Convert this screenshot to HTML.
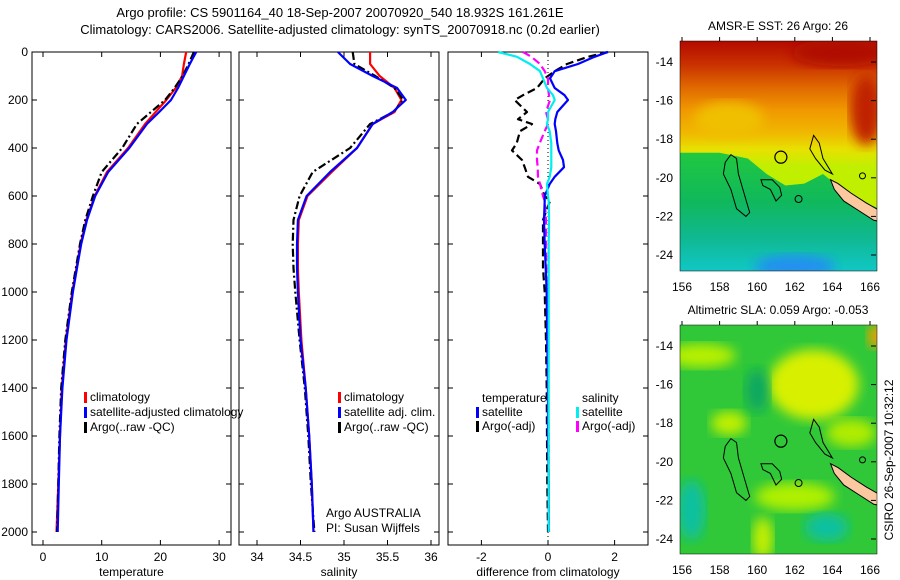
<!DOCTYPE html>
<html><head><meta charset="utf-8"><style>
html,body{margin:0;padding:0;background:#fff;}
svg{display:block;font-family:"Liberation Sans",sans-serif;}
</style></head><body>
<svg id="fig" width="900" height="580" viewBox="0 0 900 580" xmlns="http://www.w3.org/2000/svg">
<defs>
<linearGradient id="sstGrad" x1="0" y1="0" x2="0" y2="1">
<stop offset="0" stop-color="#b40a00"/><stop offset="0.1" stop-color="#c83000"/><stop offset="0.2" stop-color="#e06800"/><stop offset="0.3" stop-color="#f09800"/><stop offset="0.4" stop-color="#f0b800"/><stop offset="0.47" stop-color="#e8e000"/><stop offset="0.55" stop-color="#c0f000"/>
</linearGradient>
<linearGradient id="sstLow" x1="0" y1="0" x2="0" y2="1">
<stop offset="0" stop-color="#20c840"/><stop offset="0.35" stop-color="#10b85c"/><stop offset="0.6" stop-color="#10b890"/><stop offset="0.85" stop-color="#10c8c8"/><stop offset="1" stop-color="#2098f0"/>
</linearGradient>
<filter id="blur"><feGaussianBlur stdDeviation="6"/></filter>
<clipPath id="clipTop"><rect x="680" y="41" width="197" height="230"/></clipPath>
<clipPath id="clipBot"><rect x="680" y="325" width="197" height="229"/></clipPath>
</defs>
<text x="340" y="17" font-size="13" text-anchor="middle">Argo profile: CS 5901164_40 18-Sep-2007 20070920_540 18.932S 161.261E</text>
<text x="340" y="34" font-size="13" text-anchor="middle">Climatology: CARS2006. Satellite-adjusted climatology: synTS_20070918.nc (0.2d earlier)</text>
<g id="plots"></g>
<g id="maps"></g>
<text transform="translate(893,460) rotate(-90)" font-size="12" text-anchor="middle">CSIRO 26-Sep-2007 10:32:12</text>
</svg>
<script>
// ---- data ----
const depths = [0,50,100,150,200,250,300,400,500,600,700,800,900,1000,1200,1400,1600,1800,2000];
const tempClim = [24.4,24.0,23.7,22.6,21.0,19.2,17.4,14.5,10.9,8.8,7.4,6.4,5.7,5.0,3.9,3.2,2.9,2.6,2.3];
const tempSat  = [26.1,25.0,24.0,23.0,21.8,19.8,17.7,14.7,11.1,8.9,7.5,6.5,5.8,5.1,4.0,3.3,2.9,2.7,2.5];
const tempArgo = [25.7,24.8,23.8,22.4,20.8,18.4,16.0,13.5,10.0,8.5,7.2,6.3,5.6,4.9,3.8,3.1,2.8,2.6,2.4];
const saltClim = [35.30,35.30,35.41,35.58,35.66,35.58,35.33,35.15,34.86,34.58,34.48,34.47,34.47,34.48,34.51,34.56,34.60,34.63,34.65];
const saltSat  = [34.93,35.07,35.33,35.61,35.71,35.56,35.33,35.15,34.84,34.57,34.47,34.46,34.46,34.47,34.50,34.56,34.60,34.63,34.65];
const saltArgo = [35.10,35.12,35.36,35.58,35.68,35.57,35.30,35.07,34.64,34.49,34.42,34.41,34.42,34.44,34.49,34.55,34.59,34.62,34.66];
const dDepths = [0,20,50,80,110,150,180,200,250,280,300,330,380,410,450,480,520,550,600,620,700,800,900,1000,1200,1400,1600,1800,2000];
const dTempSat  = [1.8,1.4,0.9,0.2,0.06,0.2,0.5,0.6,0.28,0.22,0.2,0.24,0.28,0.32,0.45,0.48,0.2,0.05,-0.1,-0.1,-0.12,-0.1,-0.07,-0.04,-0.02,0,0,0.02,0.02];
const dTempArgo = [1.8,1.2,0.57,0.2,-0.1,-0.33,-0.75,-1.0,-0.63,-0.9,-0.48,-0.84,-0.94,-1.08,-0.78,-0.7,-0.6,-0.24,-0.1,0.06,-0.15,-0.15,-0.15,-0.1,-0.06,-0.04,-0.03,-0.02,0];
const dSaltSat  = [-1.5,-0.93,-0.54,-0.24,-0.15,-0.03,0.15,0.2,0,0,-0.03,0.05,0.1,0.1,0.1,0.1,0.05,-0.03,0,0.02,0.03,0.02,0.02,0.02,0.02,0.02,0.02,0.02,0.02];
const dSaltArgo = [-0.75,-0.5,-0.24,-0.1,0,0,0.03,0.06,-0.06,0,0,-0.1,-0.25,-0.33,-0.33,-0.31,-0.3,-0.24,-0.15,-0.1,-0.06,-0.06,-0.05,-0.04,-0.02,0,0.02,0.02,0.03];
const depthTicks = [0,200,400,600,800,1000,1200,1400,1600,1800,2000];
const tempTicks = [0,10,20,30];
const saltTicks = ["34","34.5","35","35.5","36"];
const diffTicks = [-2,0,2];
const latTicks = [14,16,18,20,22,24];
const lonTicks = [156,158,160,162,164,166];

const NS = "http://www.w3.org/2000/svg";
function mk(tag, attrs, parent, text){
  const e = document.createElementNS(NS, tag);
  for (const k in attrs) e.setAttribute(k, attrs[k]);
  if (text !== undefined) e.textContent = text;
  parent.appendChild(e);
  return e;
}
const plots = document.getElementById('plots');
const TOP = 52, BOT = 545;
function yD(d){ return 52 + 0.24*d; }

const panels = [
  {name:'temperature', x0:32, x1:231, f:v=>43+5.87*v, ticks:tempTicks, title:'temperature'},
  {name:'salinity', x0:239, x1:439, f:v=>257+87*(v-34), ticks:saltTicks, title:'salinity'},
  {name:'difference', x0:448, x1:648, f:v=>548+33.3*v, ticks:diffTicks, title:'difference from climatology'}
];

panels.forEach(p=>{
  const g = mk('g', {}, plots);
  
  
  const fr = mk('rect', {x:p.x0, y:TOP, width:p.x1-p.x0, height:BOT-TOP, fill:'none', stroke:'#000', 'stroke-width':1}, g);
  
  
  depthTicks.forEach(d=>{
    const y = yD(d);
    mk('line', {x1:p.x0, x2:p.x0+5, y1:y, y2:y, stroke:'#000'}, g);
    mk('line', {x1:p.x1-5, x2:p.x1, y1:y, y2:y, stroke:'#000'}, g);
  });
  p.ticks.forEach(t=>{
    const x = p.f(parseFloat(t));
    mk('line', {x1:x, x2:x, y1:BOT, y2:BOT-5, stroke:'#000'}, g);
    mk('line', {x1:x, x2:x, y1:TOP, y2:TOP+5, stroke:'#000'}, g);
    const tl = mk('text', {x:x, y:561, 'font-size':12, 'text-anchor':'middle'}, g, String(t));
    
    
  });
  const at = mk('text', {x:(p.x0+p.x1)/2, y:576, 'font-size':12, 'text-anchor':'middle'}, g, p.title);
  
  
});
depthTicks.forEach(d=>{
  const t = mk('text', {x:28, y:yD(d)+4, 'font-size':12, 'text-anchor':'end'}, plots, String(d));
  
  
});

function line(vals, ds, f, color, dash, name){
  const pts = vals.map((v,i)=> f(v).toFixed(1)+','+yD(ds[i]).toFixed(1)).join(' ');
  const pl = mk('polyline', {points:pts, fill:'none', stroke:color, 'stroke-width':2.2, 'stroke-dasharray':dash||'none', 'stroke-linejoin':'round'}, plots);
  
  
}
const fT = panels[0].f, fS = panels[1].f, fD = panels[2].f;
const zl = mk('line', {x1:fD(0), x2:fD(0), y1:TOP, y2:BOT, stroke:'#000', 'stroke-width':1, 'stroke-dasharray':'1,3'}, plots);



line(tempClim, depths, fT, '#f00', null, 'temp-climatology-line');
line(tempArgo, depths, fT, '#000', '8,3,2,3', 'temp-argo-line');
line(tempSat, depths, fT, '#00f', null, 'temp-satellite-line');
line(saltClim, depths, fS, '#f00', null, 'salt-climatology-line');
line(saltArgo, depths, fS, '#000', '8,3,2,3', 'salt-argo-line');
line(saltSat, depths, fS, '#00f', null, 'salt-satellite-line');
line(dTempArgo, dDepths, fD, '#000', '8,4', 'diff-temp-argo-line');
line(dSaltArgo, dDepths, fD, '#f0f', '8,4', 'diff-salt-argo-line');
line(dTempSat, dDepths, fD, '#00f', null, 'diff-temp-satellite-line');
line(dSaltSat, dDepths, fD, '#0ee', null, 'diff-salt-satellite-line');

function legend(x, y, color, text, name){
  const g = mk('g', {}, plots);
  
  
  if (color) mk('rect', {x:x-6, y:y-9, width:3, height:11, fill:color}, g);
  mk('text', {x:x, y:y, 'font-size':12}, g, text);
}
legend(90,401,'#f00','climatology','legend-climatology');
legend(90,416,'#00f','satellite-adjusted climatology','legend-satellite-adjusted');
legend(90,431,'#000','Argo(..raw -QC)','legend-argo-raw');
legend(344,401,'#f00','climatology','legend-sal-climatology');
legend(344,416,'#00f','satellite adj. clim.','legend-sal-satellite');
legend(344,431,'#000','Argo(..raw -QC)','legend-sal-argo');
legend(326,517,null,'Argo AUSTRALIA','credit-argo-australia');
legend(326,532,null,'PI: Susan Wijffels','credit-pi');
legend(482,402,null,'temperature','diff-legend-temperature-header');
legend(482,416,'#00f','satellite','diff-legend-temp-satellite');
legend(482,430,'#000','Argo(-adj)','diff-legend-temp-argo');
legend(582,402,null,'salinity','diff-legend-salinity-header');
legend(582,416,'#0ee','satellite','diff-legend-sal-satellite');
legend(582,430,'#f0f','Argo(-adj)','diff-legend-sal-argo');

// ---- maps ----
const maps = document.getElementById('maps');
const lonX = lon => 682 + 18.8*(lon-156);
function drawMap(y0, top, bot, title, clip, kind){
  const latY = lat => y0 + 19.3*(lat-14);
  const g = mk('g', {}, maps);
  
  
  const c = mk('g', {'clip-path':'url(#'+clip+')'}, g);
  if (kind === 'sst') {
    mk('rect', {x:680, y:top, width:197, height:bot-top, fill:'url(#sstGrad)'}, c);
    mk('ellipse', {cx:lonX(158.5), cy:latY(17), rx:35, ry:18, fill:'#f0c000', filter:'url(#blur)'}, c);
    mk('ellipse', {cx:lonX(164.5), cy:latY(13.5), rx:50, ry:14, fill:'#b00800', filter:'url(#blur)'}, c);
    mk('ellipse', {cx:lonX(165.8), cy:latY(16.5), rx:16, ry:35, fill:'#c02000', filter:'url(#blur)'}, c);
    const poly = [[155,18.7],[158,18.7],[159.5,19],[160.5,19.8],[161.5,20.4],[162.5,20.3],[163.5,19.8],[164.5,20.6],[165.5,21.2],[167,21.8],[167,26],[155,26]];
    mk('polygon', {points: poly.map(p=>lonX(p[0])+','+latY(p[1])).join(' '), fill:'url(#sstLow)'}, c);
    mk('ellipse', {cx:lonX(162), cy:latY(24.6), rx:40, ry:12, fill:'#2090f0', filter:'url(#blur)'}, c);
  } else {
    mk('rect', {x:680, y:top, width:197, height:bot-top, fill:'#30c838'}, c);
    const blobs = [[157,14.5,35,12,'#b8f000'],[163,16,45,35,'#d8f000'],[158.5,18,18,12,'#c0f000'],[165,18.5,25,14,'#b0ec00'],[162,21.8,40,14,'#b0f000'],[160.3,24,10,22,'#c8f000'],[166.5,13.5,12,12,'#f0a000'],[156.5,22.5,14,30,'#10c0a0'],[163.7,23.4,22,14,'#10c0a0'],[160,16.3,12,22,'#10a860']];
    blobs.forEach(b=> mk('ellipse', {cx:lonX(b[0]), cy:latY(b[1]), rx:b[2], ry:b[3], fill:b[4], filter:'url(#blur)'}, c));
  }
  const isl = [
    [[158.6,18.8],[158.9,19],[159,19.8],[159.3,20.8],[159.6,21.8],[159.4,22],[158.9,21.6],[158.6,20.6],[158.2,19.8],[158.3,19.2]],
    [[163,17.8],[163.3,18.2],[163.5,19],[164,19.8],[163.6,19.6],[163.1,19],[162.8,18.5]],
    [[160.2,20.1],[160.8,20.1],[161.2,20.5],[161.3,20.9],[161,21.2],[160.7,20.6],[160.3,20.4]]
  ];
  isl.forEach(pp=> mk('polygon', {points: pp.map(p=>lonX(p[0])+','+latY(p[1])).join(' '), fill:'none', stroke:'#000', 'stroke-width':1}, c));
  mk('circle', {cx:lonX(162.2), cy:latY(21.1), r:3.5, fill:'none', stroke:'#000'}, c);
  mk('circle', {cx:lonX(165.6), cy:latY(19.9), r:3, fill:'none', stroke:'#000'}, c);
  const nc = [[163.9,20.1],[164.3,20.3],[165,20.8],[165.8,21.3],[166.7,21.8],[166.7,22.3],[166.2,22.2],[165.4,21.7],[164.6,21.2],[164.1,20.6]];
  const ncp = mk('polygon', {points: nc.map(p=>lonX(p[0])+','+latY(p[1])).join(' '), fill:'#fbc8a0', stroke:'#000', 'stroke-width':1}, c);
  
  
  const pc = mk('circle', {cx:lonX(161.26), cy:latY(18.93), r:6, fill:'none', stroke:'#000', 'stroke-width':1.2}, c);
  
  
  mk('rect', {x:680, y:top, width:197, height:bot-top, fill:'none', stroke:'#000', 'stroke-width':0.5}, g);
  latTicks.forEach(l=>{
    const y = latY(l);
    mk('line', {x1:876, x2:871, y1:y, y2:y, stroke:'#000'}, g);
    const t = mk('text', {x:673, y:y+4, 'font-size':12, 'text-anchor':'end'}, g, '-'+l);
    
    
  });
  lonTicks.forEach(l=>{
    const x = lonX(l);
    mk('line', {x1:x, x2:x, y1:top-4, y2:top, stroke:'#000'}, g);
    const t = mk('text', {x:x, y:bot+20, 'font-size':12, 'text-anchor':'middle'}, g, String(l));
    
    
  });
  const tt = mk('text', {x:778, y:top-11, 'font-size':12, 'text-anchor':'middle'}, g, title);
  
  
}
drawMap(62, 41, 271, 'AMSR-E SST: 26 Argo: 26', 'clipTop', 'sst');
drawMap(346, 325, 554, 'Altimetric SLA: 0.059 Argo: -0.053', 'clipBot', 'sla');
</script>
</body></html>
